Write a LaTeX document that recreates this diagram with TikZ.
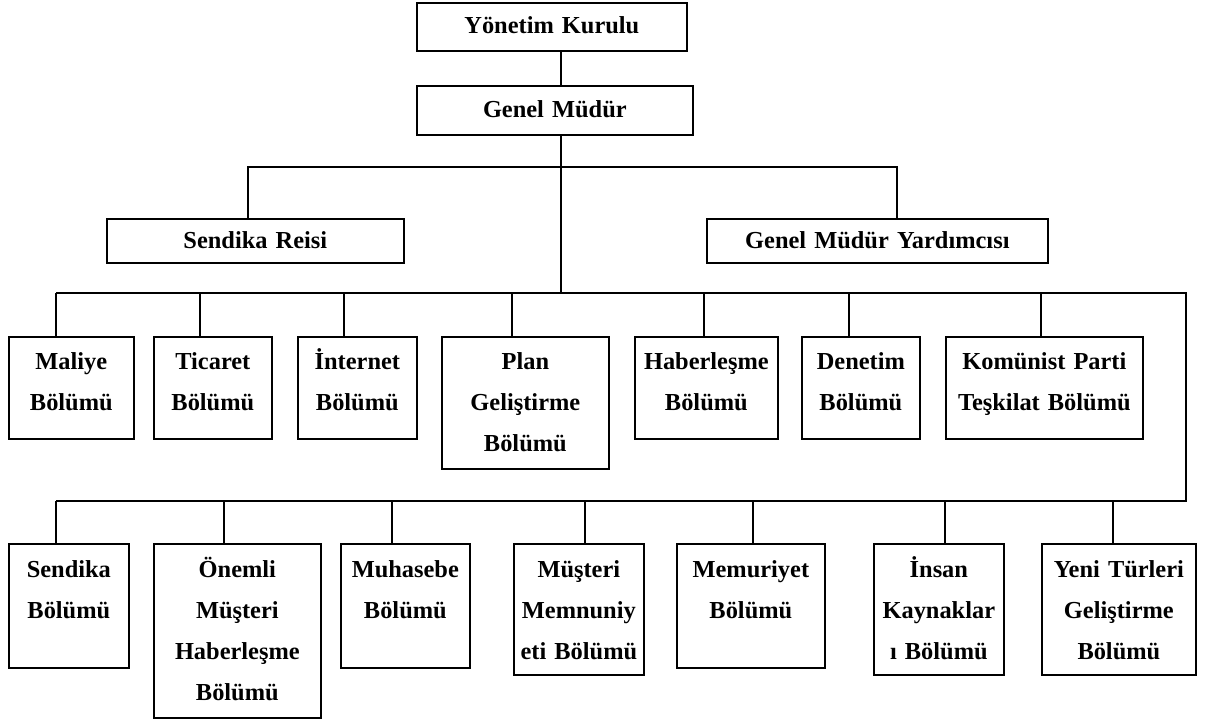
\documentclass[tikz,border=0pt]{standalone}
\usepackage{fontspec}
\setmainfont{Liberation Serif}
\tikzset{
	box/.style={draw, line width=1.7pt, anchor=north west, inner sep=0pt},
	txt/.style={anchor=base, text width=320pt, align=center, inner sep=0pt, font=\fontsize{24.4}{41}\selectfont\bfseries},
	link/.style={line width=1.3pt}
}
\begin{document}
\begin{tikzpicture}[x=1pt,y=-1pt]
	\useasboundingbox (0,0) rectangle (1213,722);
	
	% upper part
	\node[box, minimum width=270pt, minimum height=48pt] (yk) at (416,2) {};
	\node[txt] (yk-t) at ([yshift=-32pt]yk.north) {Yönetim Kurulu};
	\node[box, minimum width=276pt, minimum height=49pt] (gm) at (416,85) {};
	\node[txt] (gm-t) at ([yshift=-33pt]gm.north) {Genel Müdür};
	\node[box, minimum width=297pt, minimum height=44pt] (sr) at (106,218) {};
	\node[txt] (sr-t) at ([yshift=-30pt]sr.north) {Sendika Reisi};
	\node[box, minimum width=341pt, minimum height=44pt] (gmy) at (706,218) {};
	\node[txt] (gmy-t) at ([yshift=-30pt]gmy.north) {Genel Müdür Yardımcısı};
	
	% first row of departments
	\node[box, minimum width=125pt, minimum height=102pt] (mal) at (8,336) {};
	\node[txt] (mal-t) at ([yshift=-33pt]mal.north) {Maliye\\Bölümü};
	\node[box, minimum width=118pt, minimum height=102pt] (tic) at (153,336) {};
	\node[txt] (tic-t) at ([yshift=-33pt]tic.north) {Ticaret\\Bölümü};
	\node[box, minimum width=119pt, minimum height=102pt] (int) at (297,336) {};
	\node[txt] (int-t) at ([yshift=-33pt]int.north) {İnternet\\Bölümü};
	\node[box, minimum width=167pt, minimum height=132pt] (pln) at (441,336) {};
	\node[txt] (pln-t) at ([yshift=-33pt]pln.north) {Plan\\Geliştirme\\Bölümü};
	\node[box, minimum width=143pt, minimum height=102pt] (hab) at (634,336) {};
	\node[txt] (hab-t) at ([yshift=-33pt]hab.north) {Haberleşme\\Bölümü};
	\node[box, minimum width=118pt, minimum height=102pt] (den) at (801,336) {};
	\node[txt] (den-t) at ([yshift=-33pt]den.north) {Denetim\\Bölümü};
	\node[box, minimum width=197pt, minimum height=102pt] (kom) at (945,336) {};
	\node[txt] (kom-t) at ([yshift=-33pt]kom.north) {Komünist Parti\\Teşkilat Bölümü};
	
	% second row of departments
	\node[box, minimum width=120pt, minimum height=124pt] (sen) at (8,543) {};
	\node[txt] (sen-t) at ([yshift=-34pt]sen.north) {Sendika\\Bölümü};
	\node[box, minimum width=167pt, minimum height=174pt] (onm) at (153,543) {};
	\node[txt] (onm-t) at ([yshift=-34pt]onm.north) {Önemli\\Müşteri\\Haberleşme\\Bölümü};
	\node[box, minimum width=129pt, minimum height=124pt] (muh) at (340,543) {};
	\node[txt] (muh-t) at ([yshift=-34pt]muh.north) {Muhasebe\\Bölümü};
	\node[box, minimum width=130pt, minimum height=131pt] (mus) at (513,543) {};
	\node[txt] (mus-t) at ([yshift=-34pt]mus.north) {Müşteri\\Memnuniy\\eti Bölümü};
	\node[box, minimum width=148pt, minimum height=124pt] (mem) at (676,543) {};
	\node[txt] (mem-t) at ([yshift=-34pt]mem.north) {Memuriyet\\Bölümü};
	\node[box, minimum width=130pt, minimum height=131pt] (ins) at (873,543) {};
	\node[txt] (ins-t) at ([yshift=-34pt]ins.north) {İnsan\\Kaynaklar\\ı Bölümü};
	\node[box, minimum width=154pt, minimum height=131pt] (yen) at (1041,543) {};
	\node[txt] (yen-t) at ([yshift=-34pt]yen.north) {Yeni Türleri\\Geliştirme\\Bölümü};
	
	% bus points
	\coordinate (j0) at (561,167);
	\coordinate (j1) at (561,293);
	\coordinate (usr) at (248,167);
	\coordinate (ugmy) at (897,167);
	\coordinate (a1) at (56,293);
	\coordinate (a2) at (200,293);
	\coordinate (a3) at (344,293);
	\coordinate (a4) at (512,293);
	\coordinate (a5) at (704,293);
	\coordinate (a6) at (849,293);
	\coordinate (a7) at (1041,293);
	\coordinate (c1) at (1186,293);
	\coordinate (c2) at (1186,501);
	\coordinate (b1) at (56,501);
	\coordinate (b2) at (224,501);
	\coordinate (b3) at (392,501);
	\coordinate (b4) at (585,501);
	\coordinate (b5) at (753,501);
	\coordinate (b6) at (945,501);
	\coordinate (b7) at (1113,501);
	
	% connectors
	\draw[link] (yk.south -| j0) -- (gm.north -| j0);
	\draw[link] (gm.south -| j0) -- (j1);
	\draw[link] (usr |- sr.north) -- (usr) -- (ugmy) -- (ugmy |- gmy.north);
	\draw[link] (a1) -- (c1) -- (c2) -- (b1);
	\draw[link] (a1) -- (a1 |- mal.north);
	\draw[link] (a2) -- (a2 |- tic.north);
	\draw[link] (a3) -- (a3 |- int.north);
	\draw[link] (a4) -- (a4 |- pln.north);
	\draw[link] (a5) -- (a5 |- hab.north);
	\draw[link] (a6) -- (a6 |- den.north);
	\draw[link] (a7) -- (a7 |- kom.north);
	\draw[link] (b1) -- (b1 |- sen.north);
	\draw[link] (b2) -- (b2 |- onm.north);
	\draw[link] (b3) -- (b3 |- muh.north);
	\draw[link] (b4) -- (b4 |- mus.north);
	\draw[link] (b5) -- (b5 |- mem.north);
	\draw[link] (b6) -- (b6 |- ins.north);
	\draw[link] (b7) -- (b7 |- yen.north);
\end{tikzpicture}
\end{document}
